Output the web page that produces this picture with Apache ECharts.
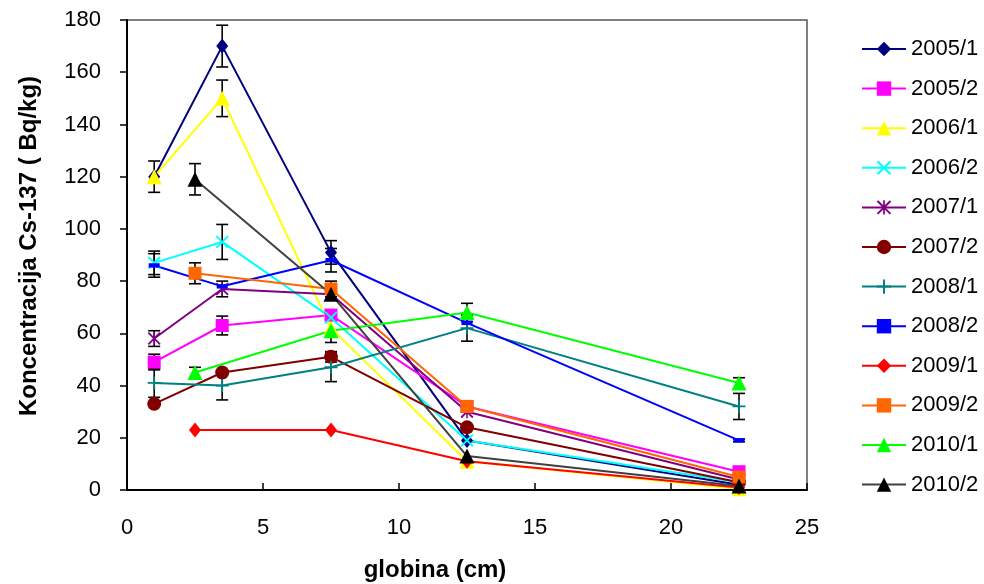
<!DOCTYPE html>
<html>
<head>
<meta charset="utf-8">
<script src="https://cdn.jsdelivr.net/npm/echarts@6/dist/echarts.min.js"></script>
<style>
html,body{margin:0;padding:0;background:#fff;}
#chart{width:984px;height:584px;}
</style>
</head>
<body>
<div id="chart"></div>
<script>
// depths (cm)
const depths = [1, 2.5, 3.5, 7.5, 12.5, 22.5];
const seriesNames = ['2005/1','2005/2','2006/1','2006/2','2007/1','2007/2','2008/1','2008/2','2009/1','2009/2','2010/1','2010/2'];
const xTicks = [0, 5, 10, 15, 20, 25];
const yTicks = [0, 20, 40, 60, 80, 100, 120, 140, 160, 180];

// concentrations (Bq/kg), null = not measured
const v2005_1 = [120, null, 170, 91, 19, 2];
const v2005_2 = [49, null, 63, 67, 32, 7];
const v2006_1 = [120, null, 150, 62, 11, 0.5];
const v2006_2 = [87, null, 95, 66, 19, 3];
const v2007_1 = [58, null, 77, 75, 30, 4];
const v2007_2 = [33, null, 45, 51, 24, 3];
const v2008_1 = [41, null, 40, 47, 62, 32];
const v2008_2 = [86, null, 78, 88, 64, 19];
const v2009_1 = [null, 23, null, 23, 11, 1];
const v2009_2 = [null, 83, null, 77, 32, 5];
const v2010_1 = [null, 45, null, 61, 68, 41];
const v2010_2 = [null, 119, null, 75, 13, 1.5];

// error bar half-widths (Bq/kg)
const e2005_1 = [6, null, 8, 4.5, null, null];
const e2005_2 = [3, null, 3.6, null, null, null];
const e2006_1 = [null, null, 7, null, null, null];
const e2006_2 = [4.5, null, 6.7, null, null, null];
const e2007_1 = [3, null, 3, null, null, null];
const e2007_2 = [null, null, null, 2, null, null];
const e2008_1 = [5.5, null, 5.5, 5.5, 5, 5];
const e2008_2 = [4.5, null, null, 4.5, null, 0.5];
const e2009_1 = [null, null, null, null, null, null];
const e2009_2 = [null, 4, null, 3, null, null];
const e2010_1 = [null, 2, null, 4.5, 3.5, 2];
const e2010_2 = [null, 6, null, null, null, null];

const values = [v2005_1,v2005_2,v2006_1,v2006_2,v2007_1,v2007_2,v2008_1,v2008_2,v2009_1,v2009_2,v2010_1,v2010_2];
const errors = [e2005_1,e2005_2,e2006_1,e2006_2,e2007_1,e2007_2,e2008_1,e2008_2,e2009_1,e2009_2,e2010_1,e2010_2];

const X_PATH = 'path://M0,1 L1,0 L5,4 L9,0 L10,1 L6,5 L10,9 L9,10 L5,6 L1,10 L0,9 L4,5 Z';
const AST_PATH = 'path://M0,1 L1,0 L5,4 L9,0 L10,1 L6,5 L10,9 L9,10 L5,6 L1,10 L0,9 L4,5 Z M4.4,0 L5.6,0 L5.6,10 L4.4,10 Z';
const PLUS_PATH = 'path://M4.3,0 L5.7,0 L5.7,4.3 L10,4.3 L10,5.7 L5.7,5.7 L5.7,10 L4.3,10 L4.3,5.7 L0,5.7 L0,4.3 L4.3,4.3 Z';
const DASH_PATH = 'path://M0,0 L10,0 L10,4 L0,4 Z';

const styles = [
  {line:'#000080', mark:'#000080', symbol:'diamond', size:[12,15]},
  {line:'#FF00FF', mark:'#FF00FF', symbol:'rect', size:13},
  {line:'#FFFF00', mark:'#FFFF00', symbol:'triangle', size:15},
  {line:'#00FFFF', mark:'#00FFFF', symbol:X_PATH, size:13},
  {line:'#800080', mark:'#800080', symbol:AST_PATH, size:13},
  {line:'#800000', mark:'#800000', symbol:'circle', size:14},
  {line:'#008080', mark:'#008080', symbol:PLUS_PATH, size:13},
  {line:'#0000FF', mark:'#0000FF', symbol:DASH_PATH, size:[11,11], keep:true},
  {line:'#FF0000', mark:'#FF0000', symbol:'diamond', size:[12,15]},
  {line:'#FF6600', mark:'#FF6600', symbol:'rect', size:13},
  {line:'#00FF00', mark:'#00FF00', symbol:'triangle', size:15},
  {line:'#404040', mark:'#000000', symbol:'triangle', size:15}
];

const series = [];
const errData = [];
seriesNames.forEach((name, i) => {
  const data = [];
  depths.forEach((d, j) => {
    if (values[i][j] !== null) data.push([d, values[i][j]]);
    if (values[i][j] !== null && errors[i][j] !== null) {
      errData.push([d, values[i][j] - errors[i][j], values[i][j] + errors[i][j]]);
    }
  });
  const s = styles[i];
  series.push({
    name: name,
    type: 'line',
    data: data,
    symbol: s.symbol,
    symbolSize: s.size,
    symbolKeepAspect: !!s.keep,
    showAllSymbol: true,
    z: 3,
    lineStyle: {color: s.line, width: 2},
    itemStyle: {color: s.mark, borderWidth: 0},
    emphasis: {disabled: true}
  });
});

series.unshift({
  name: 'errors',
  type: 'custom',
  z: 2,
  data: errData,
  encode: {x: 0, y: [1, 2]},
  renderItem: function (params, api) {
    const x = api.value(0);
    const lo = api.coord([x, api.value(1)]);
    const hi = api.coord([x, api.value(2)]);
    const w = 6;
    const st = {stroke: '#000', lineWidth: 1.6};
    return {
      type: 'group',
      children: [
        {type: 'line', shape: {x1: lo[0], y1: lo[1], x2: hi[0], y2: hi[1]}, style: st},
        {type: 'line', shape: {x1: lo[0] - w, y1: lo[1], x2: lo[0] + w, y2: lo[1]}, style: st},
        {type: 'line', shape: {x1: hi[0] - w, y1: hi[1], x2: hi[0] + w, y2: hi[1]}, style: st}
      ]
    };
  }
});

const chart = echarts.init(document.getElementById('chart'), null, {renderer: 'canvas'});
chart.setOption({
  animation: false,
  backgroundColor: '#fff',
  textStyle: {fontFamily: 'Liberation Sans, Arial, sans-serif'},
  grid: {left: 127, right: 177, top: 20, bottom: 94, show: true, borderColor: '#555', borderWidth: 1.5, backgroundColor: 'transparent'},
  xAxis: {
    type: 'value', min: xTicks[0], max: xTicks[xTicks.length - 1], interval: 5,
    axisLine: {lineStyle: {color: '#000', width: 2}},
    axisTick: {inside: true, length: 7, lineStyle: {color: '#000', width: 1.5}},
    axisLabel: {fontSize: 22, color: '#000', margin: 27},
    splitLine: {show: false}
  },
  yAxis: {
    type: 'value', min: yTicks[0], max: yTicks[yTicks.length - 1], interval: 20,
    axisLine: {show: true, lineStyle: {color: '#000', width: 2}},
    axisTick: {show: true, inside: false, length: 7, lineStyle: {color: '#000', width: 1.5}},
    axisLabel: {fontSize: 22, color: '#000', margin: 26},
    splitLine: {show: false}
  },
  legend: {
    data: seriesNames,
    orient: 'vertical',
    left: 856, top: 33,
    itemWidth: 44, itemHeight: 18, itemGap: 17.6,
    textStyle: {fontSize: 22, color: '#000', fontFamily: 'Liberation Sans, Arial, sans-serif', padding: [0, 0, 0, 0]},
    selectedMode: false
  },
  graphic: [
    {type: 'text', x: 435, y: 570, style: {text: 'globina (cm)', font: 'bold 24px "Liberation Sans", Arial, sans-serif', fill: '#000', align: 'center', verticalAlign: 'middle'}},
    {type: 'text', x: 29, y: 246, rotation: Math.PI / 2, style: {text: 'Koncentracija Cs-137 ( Bq/kg)', font: 'bold 24px "Liberation Sans", Arial, sans-serif', fill: '#000', align: 'center', verticalAlign: 'middle'}}
  ],
  series: series
});
</script>
</body>
</html>
